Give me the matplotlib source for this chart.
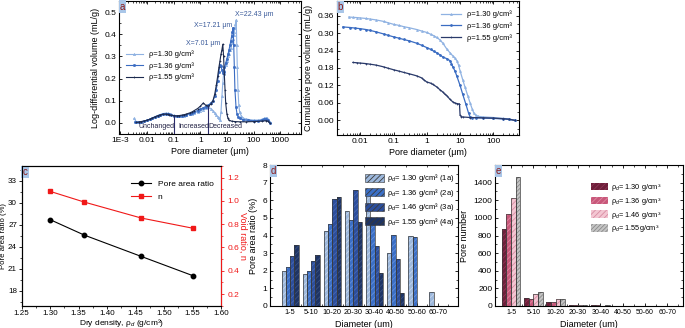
import numpy as np
import matplotlib
matplotlib.use("Agg")
import matplotlib.pyplot as plt
from matplotlib.patches import Patch
from matplotlib.ticker import AutoMinorLocator, FixedLocator

plt.rcParams['font.family'] = ['Liberation Sans', 'DejaVu Sans']
plt.rcParams['mathtext.fontset'] = 'custom'
plt.rcParams['mathtext.rm'] = 'Liberation Sans'
plt.rcParams['mathtext.it'] = 'Liberation Sans:italic'
plt.rcParams['font.size'] = 6
plt.rcParams['hatch.linewidth'] = 0.6

# ---- panel a: log-differential intrusion (x um, y mL/g)
a_x_130 = [0.0033, 0.004, 0.005, 0.006, 0.008, 0.01, 0.013, 0.016, 0.02, 0.025, 0.03, 0.04, 0.05,
           0.06, 0.07, 0.08, 0.1, 0.13, 0.16, 0.2, 0.25, 0.3, 0.4, 0.5, 0.6, 0.8, 1.0, 1.3, 1.6, 2.0,
           2.5, 3.0, 3.5, 4.0, 4.5, 5.0, 5.5, 6.0, 6.5, 7.0, 7.5, 8.0, 9.0, 10, 11, 12, 13, 14, 15, 16,
           17, 18, 19, 20, 21, 22.43, 23.5, 24.5, 26, 28, 30, 35, 40, 50, 70, 100, 150, 200, 250, 300,
           330, 370, 400]
a_y_130 = [0.020, 0.006, 0.004, 0.005, 0.008, 0.012, 0.017, 0.022, 0.028, 0.033, 0.037, 0.042, 0.044,
           0.043, 0.041, 0.038, 0.034, 0.031, 0.030, 0.031, 0.033, 0.035, 0.039, 0.042, 0.045, 0.050,
           0.055, 0.060, 0.066, 0.070, 0.065, 0.055, 0.045, 0.035, 0.028, 0.020, 0.012, 0.050, 0.120,
           0.180, 0.220, 0.240, 0.260, 0.280, 0.300, 0.310, 0.330, 0.340, 0.360, 0.370, 0.380, 0.395,
           0.410, 0.430, 0.445, 0.465, 0.350, 0.250, 0.150, 0.080, 0.050, 0.030, 0.022, 0.018, 0.015,
           0.013, 0.013, 0.016, 0.020, 0.024, 0.020, 0.010, 0.003]
a_x_136 = [0.0036, 0.004, 0.005, 0.006, 0.008, 0.01, 0.013, 0.016, 0.02, 0.025, 0.03, 0.04, 0.05,
           0.06, 0.07, 0.08, 0.1, 0.13, 0.16, 0.2, 0.25, 0.3, 0.4, 0.5, 0.6, 0.8, 1.0, 1.3, 1.6, 2.0,
           2.5, 3.0, 3.5, 4.0, 4.5, 5.0, 5.5, 6.0, 6.5, 7.0, 7.5, 8.0, 9.0, 10, 11, 12, 13, 14, 15, 16,
           17.21, 18, 19, 20, 22, 24, 27, 30, 40, 60, 100, 150, 200, 250, 300, 350, 400]
a_y_136 = [0.004, 0.002, 0.003, 0.005, 0.008, 0.011, 0.016, 0.021, 0.027, 0.032, 0.036, 0.040, 0.041,
           0.040, 0.038, 0.035, 0.032, 0.030, 0.030, 0.031, 0.034, 0.037, 0.042, 0.046, 0.050, 0.056,
           0.062, 0.068, 0.074, 0.080, 0.090, 0.100, 0.120, 0.150, 0.190, 0.230, 0.260, 0.255, 0.240,
           0.225, 0.230, 0.250, 0.270, 0.290, 0.310, 0.330, 0.350, 0.370, 0.390, 0.410, 0.430, 0.350,
           0.250, 0.150, 0.070, 0.040, 0.025, 0.020, 0.015, 0.012, 0.010, 0.010, 0.012, 0.016, 0.018,
           0.012, 0.000]
a_x_155 = [0.004, 0.005, 0.006, 0.008, 0.01, 0.013, 0.016, 0.02, 0.025, 0.03, 0.04, 0.05, 0.06, 0.07,
           0.08, 0.1, 0.13, 0.16, 0.2, 0.25, 0.3, 0.4, 0.5, 0.6, 0.8, 1.0, 1.3, 1.6, 2.0, 2.5, 3.0, 3.5,
           4.0, 4.5, 5.0, 5.5, 6.0, 6.5, 7.01, 7.5, 8.0, 8.5, 9.0, 10, 11, 12, 15, 20, 30, 50, 100, 200,
           300, 350, 400]
a_y_155 = [0.002, 0.004, 0.006, 0.009, 0.012, 0.017, 0.022, 0.027, 0.032, 0.035, 0.039, 0.040, 0.039,
           0.037, 0.035, 0.033, 0.032, 0.033, 0.035, 0.037, 0.040, 0.045, 0.050, 0.056, 0.065, 0.075,
           0.090, 0.080, 0.075, 0.085, 0.100, 0.130, 0.170, 0.210, 0.250, 0.280, 0.310, 0.330, 0.355,
           0.300, 0.220, 0.150, 0.090, 0.040, 0.020, 0.012, 0.008, 0.006, 0.005, 0.005, 0.006, 0.008,
           0.010, 0.008, 0.000]

# ---- panel b: cumulative pore volume
b_x_130 = [0.0045, 0.006, 0.008, 0.01, 0.015, 0.02, 0.03, 0.05, 0.07, 0.1, 0.15, 0.2, 0.3, 0.5, 0.7,
           1.0, 1.3, 1.6, 2.0, 2.5, 3.0, 4.0, 5.0, 6.0, 7.0, 8.0, 9.0, 10, 12, 14, 17, 20, 23, 26, 30,
           35, 50, 100, 200, 300, 450]
b_y_130 = [0.355, 0.354, 0.353, 0.352, 0.350, 0.348, 0.345, 0.340, 0.335, 0.330, 0.326, 0.322, 0.318,
           0.312, 0.307, 0.302, 0.296, 0.291, 0.285, 0.276, 0.266, 0.245, 0.232, 0.222, 0.214, 0.205,
           0.190, 0.170, 0.140, 0.115, 0.085, 0.060, 0.040, 0.025, 0.017, 0.014, 0.012, 0.010, 0.007,
           0.005, 0.000]
b_x_136 = [0.003, 0.005, 0.007, 0.01, 0.015, 0.02, 0.03, 0.05, 0.07, 0.1, 0.15, 0.2, 0.3, 0.5, 0.7,
           1.0, 1.3, 1.6, 2.0, 2.5, 3.0, 4.0, 5.0, 5.5, 6.0, 7.0, 8.0, 10, 12, 15, 18, 20, 23, 30, 50,
           100, 200, 300, 450]
b_y_136 = [0.321, 0.319, 0.317, 0.315, 0.312, 0.309, 0.304, 0.297, 0.292, 0.287, 0.282, 0.278, 0.273,
           0.265, 0.258, 0.250, 0.244, 0.238, 0.232, 0.225, 0.218, 0.212, 0.205, 0.195, 0.185, 0.170,
           0.152, 0.120, 0.090, 0.055, 0.025, 0.012, 0.010, 0.009, 0.008, 0.007, 0.005, 0.004, 0.000]
b_x_155 = [0.006, 0.008, 0.01, 0.015, 0.02, 0.03, 0.05, 0.07, 0.1, 0.15, 0.2, 0.3, 0.5, 0.7, 0.8, 1.0,
           1.3, 1.5, 2.0, 2.5, 3.0, 3.5, 4.0, 5.0, 6.0, 7.0, 8.0, 9.0, 9.6, 10, 11, 12, 20, 50, 100, 200,
           300, 450]
b_y_155 = [0.199, 0.198, 0.197, 0.195, 0.193, 0.190, 0.184, 0.179, 0.174, 0.169, 0.165, 0.160, 0.153,
           0.146, 0.140, 0.132, 0.128, 0.124, 0.115, 0.105, 0.098, 0.090, 0.085, 0.072, 0.064, 0.060,
           0.058, 0.057, 0.056, 0.018, 0.013, 0.012, 0.010, 0.009, 0.008, 0.006, 0.004, 0.000]

# ---- panel c
c_density = [1.30, 1.36, 1.46, 1.55]
c_area_ratio = [27.7, 25.6, 22.7, 20.1]
c_void_ratio = [1.082, 0.99, 0.853, 0.766]

# ---- panels d / e
groups = ["1-5", "5-10", "10-20", "20-30", "30-40", "40-50", "50-60", "60-70"]
d_1a = [1.98, 1.83, 4.25, 5.40, 6.38, 2.98, 3.95, 0.77]
d_2a = [2.20, 2.00, 4.67, 4.90, 4.85, 4.05, 3.90, 0.0]
d_3a = [2.85, 2.55, 6.05, 6.60, 3.40, 2.68, 0.0, 0.0]
d_4a = [3.45, 2.88, 6.20, 4.78, 1.90, 0.73, 0.0, 0.0]
e_130 = [870, 87, 49, 12, 8, 3, 2, 1]
e_136 = [1040, 83, 49, 10, 6, 2, 1, 1]
e_146 = [1222, 132, 76, 15, 5, 2, 1, 0]
e_155 = [1460, 159, 76, 13, 7, 3, 2, 1]

fig = plt.figure(figsize=(6.85, 3.28), dpi=100)


def panel_tag(ax, s):
    ax.text(0.004, 0.995, s, transform=ax.transAxes, ha="left", va="top", fontsize=7,
            color="#8b1a1a", zorder=10,
            bbox=dict(boxstyle="square,pad=0.12", fc="#a9c6e8", ec="none"))


def origin_ticks(ax):
    ax.tick_params(which="both", direction="in", top=True, right=True, labelsize=6, pad=2)
    ax.tick_params(which="major", length=2.5, width=0.6)
    ax.tick_params(which="minor", length=1.4, width=0.5)
    for sp in ax.spines.values():
        sp.set_linewidth(0.8)


C_LIGHT, C_MED, C_DARK = "#8fb2e2", "#3a6cc2", "#1c2a4e"

# a
ax = fig.add_axes([119 / 685, 1 - 134 / 328, 182 / 685, 133 / 328])
for xs, ys, c, lab, mk in [(a_x_130, a_y_130, C_LIGHT, "ρ=1.30 g/cm³", "^"),
                           (a_x_136, a_y_136, C_MED, "ρ=1.36 g/cm³", "o"),
                           (a_x_155, a_y_155, C_DARK, "ρ=1.55 g/cm³", "+")]:
    ax.plot(xs, ys, color=c, lw=0.8, marker=mk, ms=1.6, mew=0.5, label=lab)
ax.set_xscale("log")
ax.set_xlim(9e-4, 6000)
ax.set_ylim(-0.05, 0.55)
ax.set_xticks([1e-3, 1e-2, 1e-1, 1, 10, 100, 1000])
ax.set_xticklabels(["1E-3", "0.01", "0.1", "1", "10", "100", "1000"])
ax.set_yticks([0.0, 0.1, 0.2, 0.3, 0.4, 0.5])
ax.yaxis.set_minor_locator(AutoMinorLocator(2))
origin_ticks(ax)
ax.vlines([0.1], -0.05, 0.033, color="#2a2a6a", lw=0.8)
ax.vlines([2.0], -0.05, 0.077, color="#2a2a6a", lw=0.8)
ax.text(0.023, -0.017, "Unchanged", fontsize=5, ha="center", va="center", color="#222244")
ax.text(0.58, -0.017, "Increased", fontsize=5, ha="center", va="center", color="#222244")
ax.text(8.6, -0.017, "Decreased", fontsize=5, ha="center", va="center", color="#222244")
ax.text(20.5, 0.49, "X=22.43 μm", fontsize=5, ha="left", va="center", color="#3a5a9a")
ax.text(16.0, 0.44, "X=17.21 μm", fontsize=5, ha="right", va="center", color="#3a5a9a")
ax.text(5.6, 0.36, "X=7.01 μm", fontsize=5, ha="right", va="center", color="#3a5a9a")
ax.legend(loc="upper left", bbox_to_anchor=(0.02, 0.65), frameon=False, fontsize=5.5,
          handlelength=2.2, labelspacing=0.5, borderaxespad=0)
ax.set_xlabel("Pore diameter (μm)", fontsize=6.5, labelpad=2)
ax.set_ylabel("Log-differential volume (mL/g)", fontsize=6.5, labelpad=3)
panel_tag(ax, "a")

# b
ax = fig.add_axes([337 / 685, 1 - 135 / 328, 182 / 685, 134 / 328])
for xs, ys, c, lab, mk in [(b_x_130, b_y_130, C_LIGHT, "ρ=1.30 g/cm³", "^"),
                           (b_x_136, b_y_136, C_MED, "ρ=1.36 g/cm³", "o"),
                           (b_x_155, b_y_155, "#2a3a6a", "ρ=1.55 g/cm³", "+")]:
    ax.plot(xs, ys, color=c, lw=0.9, marker=mk, ms=1.4, mew=0.5, label=lab)
ax.set_xscale("log")
ax.set_xlim(0.002, 590)
ax.set_ylim(-0.05, 0.41)
ax.set_xticks([0.01, 0.1, 1, 10, 100])
ax.set_xticklabels(["0.01", "0.1", "1", "10", "100"])
ax.set_yticks([0.0, 0.06, 0.12, 0.18, 0.24, 0.30, 0.36])
ax.set_yticklabels(["0.00", "0.06", "0.12", "0.18", "0.24", "0.30", "0.36"])
ax.yaxis.set_minor_locator(AutoMinorLocator(2))
origin_ticks(ax)
ax.legend(loc="upper right", bbox_to_anchor=(0.98, 0.95), frameon=False, fontsize=5.5,
          handlelength=2.6, labelspacing=0.5, borderaxespad=0)
ax.set_xlabel("Pore diameter (μm)", fontsize=6.5, labelpad=2)
ax.set_ylabel("Cumulative pore volume (mL/g)", fontsize=6.5, labelpad=3)
panel_tag(ax, "b")

# c
ax = fig.add_axes([21.7 / 685, 1 - 305.7 / 328, 199.3 / 685, 139.7 / 328])
ax.plot(c_density, c_area_ratio, color="black", lw=0.8, marker="o", ms=3.2, label="Pore area ratio")
ax.set_xlim(1.25, 1.60)
ax.set_ylim(16, 35)
ax.set_xticks([1.25, 1.30, 1.35, 1.40, 1.45, 1.50, 1.55, 1.60])
ax.set_xticklabels(["1.25", "1.30", "1.35", "1.40", "1.45", "1.50", "1.55", "1.60"])
ax.set_yticks([18, 21, 24, 27, 30, 33])
ax.xaxis.set_minor_locator(AutoMinorLocator(2))
ax.yaxis.set_minor_locator(AutoMinorLocator(2))
ax.tick_params(which="both", direction="out", labelsize=5.8, pad=1.2)
ax.tick_params(which="major", length=2.2, width=0.6)
ax.tick_params(which="minor", length=1.2, width=0.5)
ax.set_xlabel("Dry density, ρ$_d$ (g/cm³)", fontsize=6)
ax.xaxis.set_label_coords(0.5, -0.08)
ax.set_ylabel("Pore area ratio (%)", fontsize=5.6)
ax.yaxis.set_label_coords(-0.072, 0.5)
ax2 = ax.twinx()
ax2.plot(c_density, c_void_ratio, color="#f01818", lw=0.8, marker="s", ms=3.0, label="n")
ax2.set_ylim(0.1, 1.3)
ax2.set_yticks([0.2, 0.4, 0.6, 0.8, 1.0, 1.2])
ax2.yaxis.set_minor_locator(AutoMinorLocator(2))
ax2.tick_params(which="both", direction="out", colors="#f01818", labelsize=6, pad=2)
ax2.tick_params(which="major", length=2.5, width=0.6)
ax2.tick_params(which="minor", length=1.4, width=0.5)
ax2.spines["right"].set_color("#f01818")
ax2.set_ylabel("Void ratio, n", fontsize=6.5, color="#f01818", rotation=270, labelpad=6)
h1, l1 = ax.get_legend_handles_labels()
h2, l2 = ax2.get_legend_handles_labels()
ax2.legend(h1 + h2, l1 + l2, loc="upper right", bbox_to_anchor=(0.98, 0.92), frameon=False,
           fontsize=6, handlelength=2.4, labelspacing=0.6, borderaxespad=0)
panel_tag(ax, "c")


def hatched_bars(ax, x, vals, width, fc, hc, hatch):
    ax.bar(x, vals, width, color=fc, edgecolor=hc, linewidth=0, hatch=hatch, zorder=2)
    ax.bar(x, vals, width, fill=False, edgecolor="#3a3a3a", linewidth=0.5, zorder=3)


xg = np.arange(len(groups))

# d
ax = fig.add_axes([270 / 685, 1 - 306 / 328, 188 / 685, 141 / 328])
d_series = [d_1a, d_2a, d_3a, d_4a]
d_fc = ["#9db8dc", "#3b6fc6", "#2c4e9c", "#1e3464"]
d_hc = ["#c6d6ec", "#6690d8", "#4a6ab2", "#3a5080"]
d_lab = ["ρ$_d$= 1.30 g/cm³ (1a)", "ρ$_d$= 1.36 g/cm³ (2a)",
         "ρ$_d$= 1.46 g/cm³ (3a)", "ρ$_d$= 1.55 g/cm³ (4a)"]
w = 0.2
for i, vals in enumerate(d_series):
    hatched_bars(ax, xg + (i - 1.5) * w, vals, w, d_fc[i], d_hc[i], "//////")
ax.set_xlim(-0.95, 7.95)
ax.set_ylim(0, 8)
ax.set_xticks(xg)
ax.set_xticklabels(groups)
ax.set_yticks(range(0, 9))
ax.xaxis.set_minor_locator(FixedLocator(xg + 0.5))
ax.yaxis.set_minor_locator(AutoMinorLocator(2))
origin_ticks(ax)
ax.tick_params(top=False)
ax.tick_params(axis="x", labelsize=5.3)
handles = [Patch(facecolor=d_fc[i], edgecolor="#3a3a3a", hatch="//////", linewidth=0.4) for i in range(4)]
ax.legend(handles, d_lab, loc="upper right", bbox_to_anchor=(0.995, 0.97), frameon=False,
          fontsize=5.5, handlelength=2.4, handleheight=1.2, labelspacing=0.32, borderaxespad=0,
          handletextpad=0.4)
ax.set_xlabel("Diameter (um)", fontsize=6.5, labelpad=3)
ax.set_ylabel("Pore area ratio (%)", fontsize=6.5, labelpad=3)
panel_tag(ax, "d")

# e
ax = fig.add_axes([495 / 685, 1 - 306 / 328, 187.7 / 685, 141 / 328])
e_series = [e_130, e_136, e_146, e_155]
e_fc = ["#6e1f3a", "#c8587a", "#f3c6d2", "#c4c4c4"]
e_hc = ["#8e3656", "#e08aa4", "#d88ca2", "#8a8a8a"]
e_hatch = ["//////", "//////", "//////", "////////"]
e_lab = ["ρ$_d$= 1.30 g/cm³", "ρ$_d$= 1.36 g/cm³", "ρ$_d$= 1.46 g/cm³", "ρ$_d$= 1.55g/cm³"]
w = 0.21
for i, vals in enumerate(e_series):
    hatched_bars(ax, xg + (i - 1.5) * w, vals, w, e_fc[i], e_hc[i], e_hatch[i])
ax.set_xlim(-0.72, 7.69)
ax.set_ylim(0, 1600)
ax.set_xticks(xg)
ax.set_xticklabels(groups)
ax.set_yticks(range(0, 1401, 200))
ax.xaxis.set_minor_locator(FixedLocator(xg + 0.5))
ax.yaxis.set_minor_locator(AutoMinorLocator(2))
origin_ticks(ax)
ax.tick_params(axis="x", labelsize=5.0)
handles = [Patch(facecolor=e_fc[i], edgecolor=e_hc[i], hatch=e_hatch[i], linewidth=0) for i in range(4)]
ax.legend(handles, e_lab, loc="upper right", bbox_to_anchor=(0.9, 0.9), frameon=False,
          fontsize=5.3, handlelength=2.2, handleheight=1.15, labelspacing=0.38, borderaxespad=0,
          handletextpad=0.4)
ax.set_xlabel("Diameter (um)", fontsize=6.5, labelpad=3)
ax.set_ylabel("Pore number", fontsize=6.5, labelpad=3)
panel_tag(ax, "e")

fig.savefig("out.png", dpi=100)
